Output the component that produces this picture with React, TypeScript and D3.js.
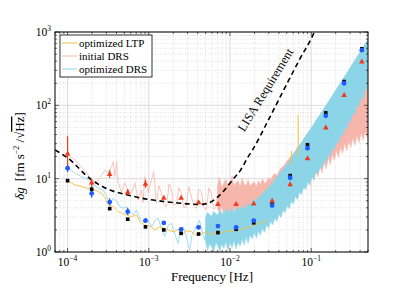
import * as d3 from "d3";

// binned points (Hz)
const markerF = [1e-4, 1.98e-4, 3.3e-4, 5.5e-4, 9.1e-4, 1.53e-3, 2.5e-3, 4.1e-3, 7.1e-3, 1.19e-2, 1.96e-2, 3.3e-2, 5.5e-2, 9.0e-2, 0.151, 0.254, 0.42];
const initialDrsPts = [22, 8.9, 11.6, 6.6, 8.5, 5.5, 5.5, 4.77, 4.5, 4.5, 4.6, 5.0, 8.4, 19, 50, 138, 396];
const optDrsPts = [13.9, 6.3, 4.8, 3.55, 2.67, 2.49, 2.04, 2.17, 2.26, 2.17, 2.67, 4.3, 10.3, 26, 72, 200, 565];
const ltpPts = [9.4, 7.2, 3.9, 2.8, 2.2, 2.0, 1.8, 1.76, 1.84, 2.04, 2.5, 4.5, 11, 29, 79, 211, 590];
const initialDrsErr = [[14, 38], [7.7, 9.9], [10.2, 13.1], [6.0, 7.2], [7.5, 9.6], null, null, null, null, null, null, null, null, null, null, null, null];
const optDrsErr = [[12.3, 16], [5.5, 7.2], [4.3, 5.4], [3.2, 4.0], [2.5, 2.9], null, null, null, null, null, null, null, null, null, null, null, null];
const ltpErr = [[8.8, 10], null, null, null, null, null, null, null, null, null, null, null, null, null, null, null, null];

// LISA requirement
const lisaF = [7.03e-5, 1e-4, 1.98e-4, 3.32e-4, 5.47e-4, 1e-3, 1.53e-3, 2.27e-3, 4.22e-3, 5.3e-3, 7.03e-3, 8.57e-3, 1.07e-2, 1.35e-2, 1.64e-2, 1.89e-2, 3.05e-2, 5.08e-2, 7.13e-2, 0.109, 0.12];
const lisaV = [24.6, 19.2, 9.6, 7.0, 6.0, 5.2, 4.89, 4.66, 4.45, 4.6, 5.6, 7.0, 9.6, 13.1, 19.2, 24.6, 67, 202, 416, 1000, 1300];

// thin spectra, low frequency part [f, value]
const ltpLine = [
  [1.0e-4, 9.4], [1.24e-4, 8.2], [1.49e-4, 7.8], [1.89e-4, 7.2], [2.17e-4, 7.0], [2.63e-4, 6.3], [2.88e-4, 5.5],
  [3.17e-4, 4.4], [3.65e-4, 4.15], [4.2e-4, 3.55], [4.62e-4, 3.37], [5.32e-4, 3.2], [6.13e-4, 3.03], [7.06e-4, 3.2],
  [7.76e-4, 2.59], [8.93e-4, 2.33], [1.03e-3, 2.26], [1.19e-3, 2.0], [1.35e-3, 2.2], [1.57e-3, 2.1], [1.8e-3, 1.95],
  [2.08e-3, 1.89], [2.3e-3, 2.05], [2.52e-3, 1.71], [2.9e-3, 1.95], [3.34e-3, 1.89], [3.85e-3, 1.7], [4.43e-3, 1.76],
  [5.1e-3, 1.9], [5.88e-3, 1.71], [6.8e-3, 1.85], [7.8e-3, 1.8], [9.0e-3, 1.95], [1.03e-2, 1.89], [1.2e-2, 2.0],
  [1.51e-2, 2.1], [1.75e-2, 2.2], [2.0e-2, 2.33], [2.4e-2, 2.5], [2.89e-2, 2.73],
];
const ltpSpikes = [[5.7e-2, 15, 24], [6.9e-2, 20, 74]];

const optDrsLine = [
  [1.0e-4, 14.0], [1.24e-4, 11.9], [1.49e-4, 10.6], [1.8e-4, 9.6], [2.07e-4, 8.2], [2.39e-4, 7.4], [2.75e-4, 7.0],
  [3.03e-4, 5.7], [3.32e-4, 4.6], [3.65e-4, 5.4], [4.02e-4, 4.9], [4.41e-4, 4.15], [4.84e-4, 3.95], [5.32e-4, 4.15],
  [5.85e-4, 3.55], [6.42e-4, 3.2], [7.06e-4, 3.74], [7.76e-4, 2.88], [8.51e-4, 2.59], [9.37e-4, 2.88], [1.03e-3, 2.46],
  [1.08e-3, 2.21], [1.19e-3, 2.7], [1.3e-3, 2.88], [1.43e-3, 2.1], [1.57e-3, 1.62], [1.73e-3, 2.3], [1.9e-3, 2.46],
  [2.08e-3, 1.8], [2.29e-3, 1.31], [2.45e-3, 2.0], [2.64e-3, 2.21], [2.9e-3, 1.6], [3.18e-3, 1.06], [3.4e-3, 1.7],
  [3.67e-3, 2.0], [4.22e-3, 2.73], [4.5e-3, 1.9], [4.87e-3, 1.46], [5.1e-3, 2.2],
];

const initialDrsLine = [
  [1.0e-4, 21], [1.24e-4, 18], [1.49e-4, 14.4], [1.8e-4, 11.2], [1.89e-4, 9.6], [2.28e-4, 9.1], [2.63e-4, 11.2],
  [2.88e-4, 13.1], [3.17e-4, 12.0], [3.49e-4, 14.6], [3.65e-4, 17.1], [3.83e-4, 10.6], [4.02e-4, 17.1], [4.2e-4, 8.7],
  [4.62e-4, 6.6], [5.08e-4, 8.7], [5.57e-4, 7.0], [6.13e-4, 6.4], [6.73e-4, 8.7], [7.39e-4, 5.1], [8.13e-4, 7.0],
  [8.51e-4, 4.7], [8.93e-4, 10.6], [9.8e-4, 6.4], [1.08e-3, 9.6], [1.15e-3, 12.5], [1.24e-3, 4.6], [1.33e-3, 8.0],
  [1.43e-3, 6.3], [1.53e-3, 4.4], [1.65e-3, 4.15], [1.78e-3, 8.5], [1.9e-3, 7.0], [2.05e-3, 4.3], [2.19e-3, 4.6],
  [2.35e-3, 7.5], [2.52e-3, 6.3], [2.7e-3, 4.0], [2.9e-3, 4.15], [3.1e-3, 7.8], [3.34e-3, 5.7], [3.6e-3, 4.2],
  [3.85e-3, 3.95], [4.1e-3, 7.2], [4.43e-3, 6.6], [4.75e-3, 4.0], [5.11e-3, 3.74], [5.5e-3, 7.5], [5.88e-3, 6.3],
  [6.3e-3, 3.8], [6.77e-3, 4.15], [7.3e-3, 8.0], [7.8e-3, 7.0],
];

// dense high frequency part as bands [f, low, high]
const initialDrsBand = [
  [7.0e-3, 3.9, 8.0], [7.4e-3, 3.5, 10.5], [7.9e-3, 4.1, 7.4], [8.3e-3, 3.3, 8.6], [8.9e-3, 3.8, 9.8], [9.4e-3, 3.0, 7.9],
  [1.0e-2, 3.7, 8.6], [1.06e-2, 3.4, 11.0], [1.12e-2, 3.9, 8.0], [1.18e-2, 2.9, 8.8], [1.26e-2, 3.5, 9.5], [1.33e-2, 3.2, 7.6],
  [1.41e-2, 3.7, 10.2], [1.49e-2, 3.1, 8.4], [1.58e-2, 3.6, 8.1], [1.67e-2, 2.8, 9.6], [1.77e-2, 3.4, 7.9], [1.88e-2, 3.2, 8.6],
  [1.99e-2, 3.6, 9.0], [2.11e-2, 2.9, 7.8], [2.24e-2, 3.3, 9.4], [2.37e-2, 3.0, 8.3], [2.51e-2, 3.5, 10.0], [2.66e-2, 3.1, 8.6],
  [2.82e-2, 3.7, 9.0], [2.99e-2, 3.2, 10.4], [3.17e-2, 3.9, 9.6], [3.36e-2, 3.3, 11.0], [3.56e-2, 4.0, 11.8], [3.77e-2, 3.5, 11.0],
  [4.0e-2, 4.4, 12.5], [4.24e-2, 3.9, 14.0], [4.5e-2, 4.9, 14.5], [4.77e-2, 4.2, 16.0], [5.06e-2, 5.4, 17.5], [5.36e-2, 4.7, 19.0],
  [5.68e-2, 6.0, 20.5], [6.02e-2, 5.1, 22.0], [6.38e-2, 6.9, 24.0], [6.76e-2, 5.9, 27.0], [7.17e-2, 7.6, 29.0], [7.6e-2, 6.5, 31.0],
  [8.06e-2, 8.7, 35.0], [8.54e-2, 7.3, 38.0], [9.05e-2, 9.8, 42.0], [9.6e-2, 8.1, 45.0], [0.102, 11.5, 48.0], [0.108, 9.4, 53.0],
  [0.114, 12.8, 57.0], [0.121, 10.6, 61.0], [0.128, 14.6, 67.0], [0.136, 12.0, 73.0], [0.144, 16.8, 80.0], [0.153, 13.5, 86.0],
  [0.162, 19.5, 95.0], [0.172, 15.6, 103.0], [0.182, 21.5, 112.0], [0.193, 17.8, 122.0], [0.204, 24.6, 133.0], [0.217, 19.5, 144.0],
  [0.23, 27.0, 155.0], [0.243, 22.0, 168.0], [0.258, 30.5, 182.0], [0.274, 24.0, 198.0], [0.29, 33.0, 215.0], [0.307, 26.5, 232.0],
  [0.326, 36.0, 250.0], [0.345, 28.5, 270.0], [0.366, 39.0, 290.0], [0.388, 31.0, 315.0], [0.411, 42.0, 340.0], [0.436, 33.5, 365.0],
  [0.462, 44.0, 395.0], [0.49, 36.0, 420.0], [0.52, 46.0, 440.0],
];

const optDrsBand = [
  [5.0e-3, 1.4, 3.0], [5.3e-3, 1.05, 3.5], [5.6e-3, 1.3, 3.2], [6.0e-3, 1.15, 3.1], [6.3e-3, 1.0, 3.6], [6.7e-3, 1.35, 3.3],
  [7.1e-3, 1.2, 3.2], [7.5e-3, 1.02, 3.8], [7.9e-3, 1.3, 3.4], [8.4e-3, 1.12, 3.3], [8.9e-3, 1.4, 3.9], [9.4e-3, 1.05, 3.5],
  [1.0e-2, 1.35, 3.6], [1.06e-2, 1.15, 4.0], [1.12e-2, 1.45, 3.5], [1.18e-2, 1.1, 3.7], [1.26e-2, 1.38, 4.1], [1.33e-2, 1.2, 3.7],
  [1.41e-2, 1.5, 4.3], [1.49e-2, 1.25, 3.9], [1.58e-2, 1.6, 4.1], [1.67e-2, 1.32, 4.6], [1.77e-2, 1.7, 4.4], [1.88e-2, 1.5, 4.8],
  [1.99e-2, 1.85, 5.2], [2.11e-2, 1.55, 5.0], [2.24e-2, 1.95, 5.6], [2.37e-2, 1.7, 5.9], [2.51e-2, 2.1, 6.1], [2.66e-2, 1.85, 6.8],
  [2.82e-2, 2.35, 7.0], [2.99e-2, 2.1, 7.6], [3.17e-2, 2.6, 8.2], [3.36e-2, 2.35, 8.8], [3.56e-2, 2.9, 9.8], [3.77e-2, 2.6, 10.5],
  [4.0e-2, 3.3, 11.5], [4.24e-2, 2.95, 12.4], [4.5e-2, 3.7, 13.5], [4.77e-2, 3.4, 14.5], [5.06e-2, 4.3, 16.0], [5.36e-2, 3.9, 17.5],
  [5.68e-2, 4.9, 19.5], [6.02e-2, 4.5, 21.0], [6.38e-2, 5.7, 23.5], [6.76e-2, 5.2, 25.5], [7.17e-2, 6.6, 28.5], [7.6e-2, 6.1, 31.0],
  [8.06e-2, 7.7, 34.5], [8.54e-2, 7.1, 38.0], [9.05e-2, 9.0, 42.0], [9.6e-2, 8.3, 46.0], [0.102, 10.6, 51.0], [0.108, 9.8, 56.0],
  [0.114, 12.5, 62.0], [0.121, 11.6, 68.0], [0.128, 14.8, 75.0], [0.136, 13.8, 83.0], [0.144, 17.8, 92.0], [0.153, 16.5, 101.0],
  [0.162, 21.5, 112.0], [0.172, 20.0, 124.0], [0.182, 26.0, 137.0], [0.193, 24.5, 151.0], [0.204, 32.0, 167.0], [0.217, 30.0, 185.0],
  [0.23, 40.0, 205.0], [0.243, 37.5, 226.0], [0.258, 50.0, 250.0], [0.274, 47.0, 277.0], [0.29, 63.0, 306.0], [0.307, 59.0, 338.0],
  [0.326, 80.0, 375.0], [0.345, 75.0, 415.0], [0.366, 102.0, 460.0], [0.388, 96.0, 510.0], [0.411, 130.0, 565.0], [0.436, 122.0, 625.0],
  [0.462, 170.0, 690.0], [0.49, 160.0, 770.0], [0.52, 230.0, 860.0],
];

const xTickLabels = ["\u22124", "\u22123", "\u22122", "\u22121"];
const yTickLabels = ["0", "1", "2", "3"];

const PINK = "rgb(246,182,172)";
const BLUE = "rgb(140,212,232)";
const YELLOW = "rgb(242,192,64)";
const FONT = "Liberation Serif";

export default function App() {
  const left = 55, right = 368, top = 32, bottom = 252;
  const x = d3.scaleLog().domain([7e-5, 0.5]).range([left, right]);
  const y = d3.scaleLog().domain([1, 1000]).range([bottom, top]);

  const line = d3.line<number[]>().x((d) => x(d[0])).y((d) => y(d[1]));
  const band = d3.area<number[]>().x((d) => x(d[0])).y0((d) => y(d[1])).y1((d) => y(d[2]));
  const lisa = d3.line<number>().x((d, i) => x(lisaF[i])).y((d) => y(d)).curve(d3.curveMonotoneX);

  const xMinor: number[] = [];
  for (let e = -5; e <= -1; e++) for (let k = 1; k <= 9; k++) {
    const v = k * Math.pow(10, e);
    if (v >= 7e-5 && v <= 0.5) xMinor.push(v);
  }
  const yMinor: number[] = [];
  for (let e = 0; e <= 2; e++) for (let k = 1; k <= 9; k++) yMinor.push(k * Math.pow(10, e));
  yMinor.push(1000);
  const isMajor = (v: number) => Math.abs(Math.log10(v) - Math.round(Math.log10(v))) < 1e-6;

  const xMajor = [1e-4, 1e-3, 1e-2, 1e-1];
  const yMajor = [1, 10, 100, 1000];

  const tri = (cx: number, cy: number) => `M${cx},${cy - 3} L${cx + 2.8},${cy + 2} L${cx - 2.8},${cy + 2} Z`;

  return (
    <svg width={415} height={294} style={{ position: "absolute", left: 0, top: 0, background: "#fff" }} fontFamily={FONT}>
      <defs>
        <clipPath id="plot">
          <rect x={left} y={top} width={right - left} height={bottom - top} />
        </clipPath>
      </defs>

      {/* grid */}
      {xMinor.map((v, i) => (
        <line key={"gx" + i} x1={x(v)} x2={x(v)} y1={top} y2={bottom}
          stroke={isMajor(v) ? "#d4d4d4" : "#cfcfcf"} strokeWidth={isMajor(v) ? 0.8 : 0.6}
          strokeDasharray={isMajor(v) ? undefined : "1,1.5"} />
      ))}
      {yMinor.map((v, i) => (
        <line key={"gy" + i} x1={left} x2={right} y1={y(v)} y2={y(v)}
          stroke={isMajor(v) ? "#d4d4d4" : "#cfcfcf"} strokeWidth={isMajor(v) ? 0.8 : 0.6}
          strokeDasharray={isMajor(v) ? undefined : "1,1.5"} />
      ))}

      <g clipPath="url(#plot)">
        <path d={line(initialDrsLine) || ""} fill="none" stroke={PINK} strokeWidth={0.8} />
        <path d={band(initialDrsBand) || ""} fill={PINK} stroke={PINK} strokeWidth={0.5} />
        <path d={line(optDrsLine) || ""} fill="none" stroke={BLUE} strokeWidth={0.8} />
        <path d={band(optDrsBand) || ""} fill={BLUE} stroke={BLUE} strokeWidth={0.5} />
        <path d={line(ltpLine) || ""} fill="none" stroke={YELLOW} strokeWidth={0.9} />
        {ltpSpikes.map((d, i) => (
          <line key={"sp" + i} x1={x(d[0])} x2={x(d[0])} y1={y(d[1])} y2={y(d[2])} stroke={YELLOW} strokeWidth={1} />
        ))}
        <path d={lisa(lisaV) || ""} fill="none" stroke="#000" strokeWidth={1.6} strokeDasharray="5,3.5" />

        {/* error bars */}
        {ltpErr.map((e, i) => e && (
          <line key={"e1" + i} x1={x(markerF[i])} x2={x(markerF[i])} y1={y(e[0])} y2={y(e[1])} stroke={YELLOW} strokeWidth={1.2} />
        ))}
        {optDrsErr.map((e, i) => e && (
          <line key={"e2" + i} x1={x(markerF[i])} x2={x(markerF[i])} y1={y(e[0])} y2={y(e[1])} stroke="#1f5bff" strokeWidth={1.2} />
        ))}
        {initialDrsErr.map((e, i) => e && (
          <line key={"e3" + i} x1={x(markerF[i])} x2={x(markerF[i])} y1={y(e[0])} y2={y(e[1])} stroke="#f03a1c" strokeWidth={1.2} />
        ))}

        {/* binned markers */}
        {ltpPts.map((v, i) => (
          <rect key={"m1" + i} x={x(markerF[i]) - 1.8} y={y(v) - 1.8} width={3.6} height={3.6} fill="#000" />
        ))}
        {optDrsPts.map((v, i) => (
          <circle key={"m2" + i} cx={x(markerF[i])} cy={y(v)} r={2.4} fill="#1f5bff" />
        ))}
        {initialDrsPts.map((v, i) => (
          <path key={"m3" + i} d={tri(x(markerF[i]), y(v))} fill="#f03a1c" />
        ))}
      </g>

      {/* LISA label */}
      <text transform={`translate(269,92) rotate(-58.5)`} textAnchor="middle" fontSize={12.5} fill="#111">
        LISA Requirement
      </text>

      {/* ticks */}
      {xMinor.map((v, i) => {
        const l = isMajor(v) ? 4 : 2;
        return (
          <g key={"tx" + i} stroke="#000" strokeWidth={0.6}>
            <line x1={x(v)} x2={x(v)} y1={bottom} y2={bottom - l} />
            <line x1={x(v)} x2={x(v)} y1={top} y2={top + l} />
          </g>
        );
      })}
      {yMinor.map((v, i) => {
        const l = isMajor(v) ? 4 : 2;
        return (
          <g key={"ty" + i} stroke="#000" strokeWidth={0.6}>
            <line x1={left} x2={left + l} y1={y(v)} y2={y(v)} />
            <line x1={right} x2={right - l} y1={y(v)} y2={y(v)} />
          </g>
        );
      })}
      <rect x={left} y={top} width={right - left} height={bottom - top} fill="none" stroke="#000" strokeWidth={1} />

      {/* tick labels */}
      {xMajor.map((v, i) => (
        <text key={"lx" + i} x={x(v)} y={266} textAnchor="middle" fontSize={11.5}>
          10<tspan dy={-5} fontSize={7.5}>{xTickLabels[i]}</tspan>
        </text>
      ))}
      {yMajor.map((v, i) => (
        <text key={"ly" + i} x={left - 4} y={y(v) + 4} textAnchor="end" fontSize={11.5}>
          10<tspan dy={-5} fontSize={7.5}>{yTickLabels[i]}</tspan>
        </text>
      ))}

      {/* axis labels */}
      <text x={212} y={281} textAnchor="middle" fontSize={13}>Frequency [Hz]</text>
      <text transform="translate(24,156) rotate(-90)" textAnchor="middle" fontSize={13}>
        <tspan fontStyle="italic">δg</tspan>
        <tspan dx={6}>[fm s</tspan>
        <tspan dy={-5} fontSize={8}>−2</tspan>
        <tspan dy={5}> /√</tspan>
        <tspan textDecoration="overline">Hz</tspan>
        <tspan>]</tspan>
      </text>

      {/* legend */}
      <g>
        <rect x={60} y={35} width={92} height={42} fill="#fff" stroke="#000" strokeWidth={0.8} />
        {[["optimized LTP", YELLOW], ["initial DRS", PINK], ["optimized DRS", BLUE]].map((d, i) => (
          <g key={"lg" + i} transform={`translate(62,${43 + i * 13})`}>
            <line x1={0} x2={15} y1={0} y2={0} stroke={d[1]} strokeWidth={1} />
            <text x={17} y={3.5} fontSize={11}>{d[0]}</text>
          </g>
        ))}
      </g>
    </svg>
  );
}
